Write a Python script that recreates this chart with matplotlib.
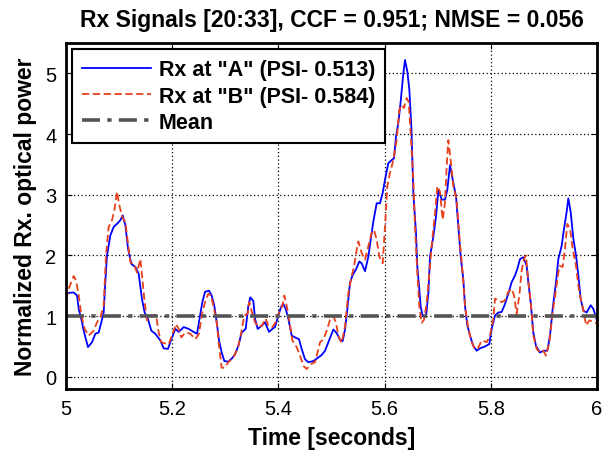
import matplotlib
matplotlib.use("Agg")
import matplotlib.pyplot as plt

# Rx at "A" (blue, solid)
time_a = [5.0, 5.0144, 5.0207, 5.0239, 5.0301, 5.0333, 5.0414, 5.049, 5.0552, 5.0615,
          5.0665, 5.0709, 5.074, 5.0772, 5.0835, 5.0898, 5.096, 5.1023, 5.1067, 5.1117,
          5.1168, 5.123, 5.1306, 5.1368, 5.1431, 5.1481, 5.1544, 5.1607, 5.1682, 5.1776,
          5.1839, 5.192, 5.1984, 5.2059, 5.2122, 5.2216, 5.231, 5.2404, 5.2467, 5.2524,
          5.2567, 5.2618, 5.2693, 5.2743, 5.2793, 5.2838, 5.2881, 5.2932, 5.2982, 5.3057,
          5.312, 5.3183, 5.3245, 5.3308, 5.3384, 5.3434, 5.3471, 5.3528, 5.3559, 5.361,
          5.3685, 5.3748, 5.3823, 5.3886, 5.3936, 5.3999, 5.4049, 5.4093, 5.4137, 5.4187,
          5.425, 5.4313, 5.4388, 5.4438, 5.4501, 5.4564, 5.4658, 5.4752, 5.4815, 5.4878,
          5.4941, 5.5035, 5.5098, 5.516, 5.5211, 5.5254, 5.5298, 5.5348, 5.5399, 5.5461,
          5.5524, 5.5568, 5.5631, 5.5694, 5.5738, 5.5788, 5.5851, 5.5913, 5.5964, 5.6008,
          5.607, 5.6133, 5.6177, 5.6215, 5.6258, 5.6302, 5.6353, 5.6384, 5.6428, 5.6466,
          5.6504, 5.6541, 5.6591, 5.6616, 5.6654, 5.6679, 5.6717, 5.678, 5.6824, 5.6855,
          5.6918, 5.6968, 5.7012, 5.7075, 5.7137, 5.7181, 5.7232, 5.7282, 5.7345, 5.7389,
          5.7433, 5.7483, 5.7514, 5.7558, 5.7608, 5.7671, 5.7734, 5.7797, 5.7891, 5.7972,
          5.8016, 5.8079, 5.8142, 5.8205, 5.8267, 5.833, 5.8393, 5.8456, 5.85, 5.855,
          5.8613, 5.8676, 5.8707, 5.8751, 5.8801, 5.8851, 5.8927, 5.8989, 5.9065, 5.9115,
          5.9165, 5.9228, 5.9272, 5.9335, 5.9379, 5.9429, 5.946, 5.9504, 5.9554, 5.9605,
          5.9649, 5.9692, 5.9743, 5.9805, 5.9881, 5.9931, 5.9981, 6.0]
rx_a = [1.38, 1.39, 1.34, 1.12, 0.9, 0.76, 0.49, 0.57, 0.71, 0.73,
        0.9, 1.06, 1.56, 2.0, 2.33, 2.47, 2.52, 2.58, 2.66, 2.5,
        2.11, 1.86, 1.81, 1.7, 1.28, 1.06, 0.95, 0.76, 0.71, 0.6,
        0.47, 0.46, 0.62, 0.79, 0.74, 0.82, 0.79, 0.74, 0.71, 1.01,
        1.23, 1.40, 1.42, 1.34, 1.17, 0.9, 0.6, 0.4, 0.26, 0.25,
        0.3, 0.37, 0.51, 0.73, 0.79, 1.17, 1.31, 1.25, 0.96, 0.79,
        0.84, 0.9, 0.74, 0.79, 0.82, 1.01, 1.15, 1.2, 1.12, 0.96,
        0.68, 0.65, 0.62, 0.46, 0.29, 0.24, 0.26, 0.32, 0.36, 0.43,
        0.57, 0.78, 0.72, 0.61, 0.59, 0.78, 1.11, 1.55, 1.68, 1.77,
        1.9, 1.87, 1.74, 1.98, 2.26, 2.56, 2.86, 2.86, 3.03, 3.25,
        3.52, 3.57, 3.6, 3.96, 4.18, 4.53, 5.0, 5.22, 5.03, 4.73,
        4.12, 3.03, 2.37, 1.82, 1.44, 1.16, 1.0, 1.0, 1.38, 1.98,
        2.31, 2.64, 3.08, 2.92, 2.92, 3.08, 3.49, 3.25, 2.97, 2.48,
        1.98, 1.6, 1.17, 0.85, 0.68, 0.51, 0.43, 0.47, 0.5, 0.54,
        0.79, 1.01, 1.06, 1.07, 1.2, 1.37, 1.56, 1.67, 1.78, 1.94,
        1.97, 1.83, 1.56, 1.23, 0.73, 0.51, 0.4, 0.43, 0.43, 0.68,
        1.12, 1.56, 1.94, 2.16, 2.44, 2.72, 2.94, 2.72, 2.28, 2.0,
        1.67, 1.29, 1.09, 1.06, 1.18, 1.12, 0.98, 0.93]

# Rx at "B" (red, dashed)
time_b = [5.0, 5.0063, 5.0144, 5.0188, 5.0239, 5.0289, 5.0352, 5.0427, 5.0521, 5.0584,
          5.0646, 5.0709, 5.0753, 5.0803, 5.0866, 5.0916, 5.096, 5.1004, 5.1055, 5.1117,
          5.1168, 5.1211, 5.1274, 5.1337, 5.14, 5.1431, 5.1481, 5.1525, 5.1588, 5.1695,
          5.1745, 5.1795, 5.1871, 5.1933, 5.1996, 5.2072, 5.2122, 5.2172, 5.2247, 5.2341,
          5.2435, 5.2505, 5.2555, 5.2618, 5.2681, 5.2731, 5.2775, 5.2838, 5.2881, 5.2932,
          5.2982, 5.3057, 5.3151, 5.3233, 5.3296, 5.3358, 5.3421, 5.3453, 5.3509, 5.3559,
          5.3622, 5.3685, 5.376, 5.381, 5.3886, 5.3949, 5.4011, 5.4074, 5.4112, 5.4156,
          5.42, 5.4263, 5.4344, 5.4407, 5.447, 5.4533, 5.4614, 5.469, 5.4784, 5.4847,
          5.491, 5.4972, 5.5035, 5.5085, 5.5129, 5.5191, 5.5254, 5.5317, 5.538, 5.5424,
          5.5474, 5.5505, 5.5568, 5.5631, 5.5694, 5.5756, 5.58, 5.5851, 5.5901, 5.5964,
          5.6008, 5.6051, 5.6102, 5.6164, 5.6227, 5.6277, 5.6321, 5.6365, 5.6415, 5.6453,
          5.6491, 5.6541, 5.6572, 5.6616, 5.6654, 5.6698, 5.6742, 5.6792, 5.6843, 5.6886,
          5.6949, 5.6993, 5.7043, 5.7093, 5.7137, 5.7169, 5.72, 5.7244, 5.7294, 5.7357,
          5.7407, 5.747, 5.7514, 5.7577, 5.764, 5.7702, 5.7765, 5.7828, 5.7922, 5.7985,
          5.8048, 5.8079, 5.8142, 5.8205, 5.8267, 5.833, 5.8393, 5.8437, 5.8487, 5.8537,
          5.8581, 5.8625, 5.8663, 5.8707, 5.8751, 5.8801, 5.8864, 5.8927, 5.8989, 5.904,
          5.9102, 5.9165, 5.9228, 5.9291, 5.9353, 5.9397, 5.9441, 5.9492, 5.9542, 5.9605,
          5.9649, 5.9692, 5.9755, 5.9793, 5.9856, 5.9918, 5.9962, 6.0]
rx_b = [1.28, 1.48, 1.66, 1.59, 1.34, 1.01, 0.79, 0.68, 0.76, 0.9,
        0.98, 1.17, 2.0, 2.47, 2.58, 2.77, 3.05, 2.83, 2.64, 2.55,
        2.19, 1.89, 1.86, 1.72, 1.94, 1.67, 1.23, 0.93, 1.01, 1.02,
        0.73, 0.57, 0.55, 0.54, 0.68, 0.87, 0.79, 0.65, 0.73, 0.71,
        0.62, 0.71, 1.01, 1.23, 1.37, 1.34, 1.17, 0.9, 0.51, 0.15,
        0.15, 0.24, 0.32, 0.46, 0.71, 1.01, 1.04, 1.23, 1.04, 0.9,
        0.82, 0.84, 0.96, 0.84, 0.82, 0.9, 1.06, 1.17, 1.34, 1.17,
        0.96, 0.6, 0.49, 0.35, 0.18, 0.13, 0.21, 0.24, 0.57, 0.62,
        0.76, 0.94, 1.0, 0.89, 0.67, 0.56, 0.83, 1.38, 1.66, 1.82,
        2.09, 2.23, 2.04, 1.93, 2.15, 2.37, 2.42, 2.26, 1.98, 1.87,
        2.48, 3.14, 3.36, 3.57, 3.9, 4.4, 4.48, 4.43, 4.59, 4.53,
        4.01, 3.25, 2.48, 1.71, 1.16, 0.89, 0.94, 1.22, 1.71, 2.15,
        2.7, 3.14, 3.05, 2.59, 2.86, 3.46, 3.9, 3.57, 3.14, 2.92,
        2.31, 1.71, 1.17, 0.79, 0.57, 0.46, 0.48, 0.6, 0.57, 0.68,
        0.96, 1.29, 1.26, 1.23, 1.26, 1.4, 1.45, 1.34, 1.04, 1.34,
        1.75, 1.94, 2.0, 1.56, 1.23, 0.68, 0.46, 0.4, 0.43, 0.35,
        0.57, 1.06, 1.45, 1.83, 1.81, 2.11, 2.52, 2.44, 2.11, 1.83,
        1.5, 1.29, 1.06, 0.85, 0.93, 0.91, 0.9, 0.87]

mean_level = 1.0
legend_labels = ['Rx at "A" (PSI- 0.513)', 'Rx at "B" (PSI- 0.584)', 'Mean']
x_ticks = [5.0, 5.2, 5.4, 5.6, 5.8, 6.0]
x_tick_labels = ['5', '5.2', '5.4', '5.6', '5.8', '6']
y_ticks = [0, 1, 2, 3, 4, 5]


def main():
    plt.rcParams['font.family'] = ['Liberation Sans', 'DejaVu Sans']
    fig = plt.figure(figsize=(6.04, 4.52), dpi=100)
    ax = fig.add_axes([0.1093, 0.1372, 0.8791, 0.7655])

    ax.plot(time_a, rx_a, color='#0000ff', lw=1.3, label=legend_labels[0])
    ax.plot(time_b, rx_b, color='#e8401c', lw=1.3, ls=(0, (4, 2)), label=legend_labels[1])
    ax.axhline(mean_level, color='#555555', lw=2.6, ls=(0, (5, 2, 1.2, 2)), label=legend_labels[2])

    ax.set_xlim(5, 6)
    ax.set_ylim(-0.2, 5.5)
    ax.set_xticks(x_ticks)
    ax.set_xticklabels(x_tick_labels)
    ax.set_yticks(y_ticks)
    ax.grid(True, color='black', ls=(0, (1, 2)), lw=0.9)
    ax.tick_params(direction='in', top=True, right=True, labelsize=14.5, length=4, pad=7)
    for s in ax.spines.values():
        s.set_linewidth(2)

    ax.set_title('Rx Signals [20:33], CCF = 0.951; NMSE = 0.056', fontsize=16.5, fontweight='bold', pad=12)
    ax.set_xlabel('Time [seconds]', fontsize=16.5, fontweight='bold', labelpad=6)
    ax.set_ylabel('Normalized Rx. optical power', fontsize=16.5, fontweight='bold', labelpad=6)

    leg = ax.legend(loc='upper left', bbox_to_anchor=(0.0, 1.0),
                    prop={'weight': 'bold', 'size': 15.5}, handlelength=3.2,
                    handletextpad=0.35, borderpad=0.45, labelspacing=0.25,
                    fancybox=False, framealpha=1, edgecolor='black',
                    borderaxespad=0.3)
    leg.get_frame().set_linewidth(1.5)

    plt.savefig('out.png', dpi=100)


if __name__ == "__main__":
    main()
